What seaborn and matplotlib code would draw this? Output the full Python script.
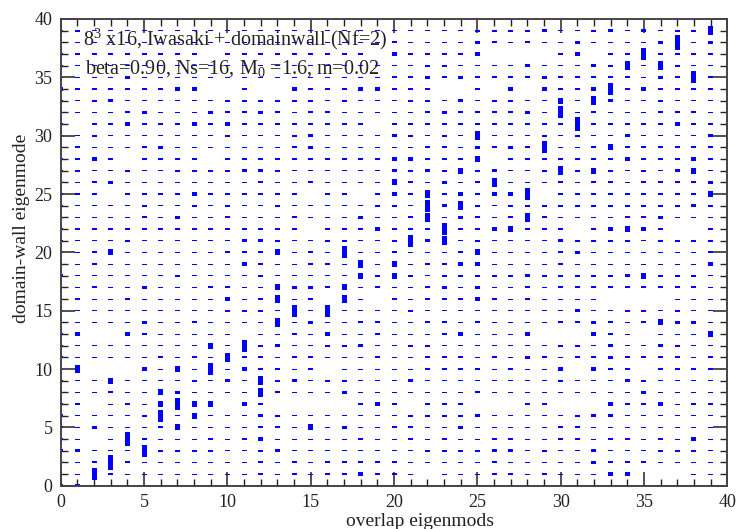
import matplotlib
matplotlib.use("Agg")
import matplotlib.pyplot as plt
import pandas as pd
import seaborn as sns
from matplotlib.ticker import MultipleLocator

# overlap strength between overlap eigenmode (column) and domain-wall eigenmode (row)
# one string per domain-wall mode 0..39, one digit per overlap mode 0..39
# groups: modes 0-10 | 11-20 | 21-30 | 31-39   (1 = faint, 8 = strongest)
dw_rows = [
    "44222222332 2222222332 2222222222 222222222",
    "22732222222 2323233433 2122233232 224411122",
    "22383212222 2323233333 2122232122 243332221",
    "44112733332 1341111111 1333344131 141113331",
    "32128322232 3422222322 3232233223 323323242",
    "32422235222 2332524223 3214221123 321221112",
    "42222372522 1431111222 3333411221 344111122",
    "33123257551 4311111343 1333111331 114334233",
    "21232254222 2631224111 2122321221 212142222",
    "22252222324 2634233212 4212222123 222432222",
    "26111425272 4332312222 2333323224 143313333",
    "32222132326 3323322232 1333232432 334333323",
    "22222222252 7342233422 3322222223 324124312",
    "34114322222 1223242232 2234222411 143212225",
    "22212421322 1262422332 2331322213 343135441",
    "22222222113 3327272221 3221211122 422332322",
    "23223222224 2362316213 2333432322 221111222",
    "22321412233 1254435232 2342422313 333333332",
    "42222223222 2322222535 3133333433 333453332",
    "22322222222 4322332625 2334422223 222222224",
    "21352222123 3352327223 2223521223 412222223",
    "22223221222 4432133223 7462322224 333313333",
    "23222332222 2222122242 2372245222 134542113",
    "22222324223 2213221422 3624323631 222334122",
    "22212322323 2232222133 2746323333 333333343",
    "22212222422 3332123124 3634244713 332333335",
    "22342211212 2322322225 3242361223 233133334",
    "23113223333 4432221224 3435342136 353232452",
    "22421222213 3223223224 4333512233 223432243",
    "23112341221 1113421121 2332434371 235333333",
    "22321211213 2223422124 3231612232 322422224",
    "21224222424 3232223213 2323223333 823233423",
    "21113411243 3432332222 1343333427 232213332",
    "21342111123 3333313222 3324233225 264123222",
    "42222224411 2114222443 3211214142 347242322",
    "22224222222 2222222223 3434333343 333324373",
    "22222222222 2222222222 2332222422 243626321",
    "22332232213 2323322214 3333411113 412273333",
    "22222222222 2222222223 2222432322 422114824",
    "23222222222 2222222222 2222333342 134242336",
]
# box height (in eigenmode units) for each strength digit
strength_height = [0.0, 0.04, 0.09, 0.16, 0.3, 0.52, 0.73, 1.03, 1.24]

title_line1 = r"8$^{\mathrm{3}}$ x16, Iwasaki + domainwall (Nf=2)"
title_line2 = r"beta=0.90, Ns=16, M$_{\mathrm{0}}$ =1.6, m=0.02"

records = []
for dw, row in enumerate(dw_rows):
    row = row.replace(" ", "")
    assert len(row) == 40, (dw, len(row))
    for ov, ch in enumerate(row):
        records.append((ov, dw, strength_height[int(ch)]))
df = pd.DataFrame(records, columns=["overlap", "domainwall", "height"])

sns.set_theme(style="ticks")
plt.rcParams["font.family"] = ["Liberation Serif", "DejaVu Serif"]
plt.rcParams["mathtext.fontset"] = "custom"
plt.rcParams["mathtext.rm"] = "Liberation Serif"

fig = plt.figure(figsize=(7.36, 5.29), dpi=100)
ax = fig.add_axes([0.0825, 0.0818, 0.9057, 0.8823])

ax.bar(df["overlap"], df["height"], bottom=df["domainwall"] - df["height"] / 2,
       width=0.3, color="#0000ff", linewidth=0, zorder=2)

ax.set_xlim(0, 40)
ax.set_ylim(0, 40)
ax.xaxis.set_major_locator(MultipleLocator(5))
ax.yaxis.set_major_locator(MultipleLocator(5))
ax.xaxis.set_minor_locator(MultipleLocator(1))
ax.yaxis.set_minor_locator(MultipleLocator(1))
ax.tick_params(which="both", direction="in", top=True, right=True,
               color="#222222", labelsize=13, labelcolor="#222222")
ax.tick_params(which="major", length=10, width=1.1, pad=6)
ax.tick_params(which="minor", length=5, width=1.0)
for s in ax.spines.values():
    s.set_color("#444444")
    s.set_linewidth(1.4)

ax.set_xlabel("overlap eigenmods", fontsize=14, color="#222222")
ax.set_ylabel("domain-wall eigenmode", fontsize=14, color="#222222")
ax.xaxis.set_label_coords(0.539, -0.058)
ax.yaxis.set_label_coords(-0.046, 0.552)

ax.text(0.0335, 0.944, title_line1, transform=ax.transAxes, fontsize=14.5,
        color="#222222", zorder=1)
ax.text(0.0365, 0.884, title_line2, transform=ax.transAxes, fontsize=14.5,
        color="#222222", zorder=1)

fig.savefig("out.png", dpi=100)
